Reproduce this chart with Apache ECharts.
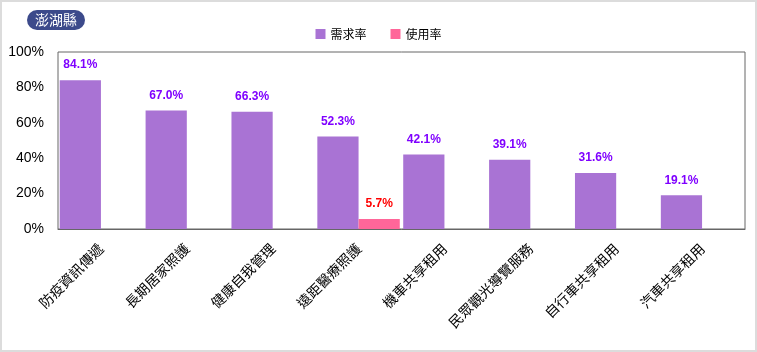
<!DOCTYPE html>
<html>
<head>
<meta charset="utf-8">
<script src="https://cdn.jsdelivr.net/npm/echarts@6/dist/echarts.min.js"></script>
<style>
  html, body { margin: 0; padding: 0; background: #fff; }
  #chart { width: 757px; height: 352px; box-sizing: border-box; border: 2px solid #dcdcdc; }
</style>
</head>
<body>
<div id="chart"></div>
<script>
// 類別
const categories = ['防疫資訊傳遞', '長期居家照護', '健康自我管理', '遠距醫療照護', '機車共享租用', '民眾觀光導覽服務', '自行車共享租用', '汽車共享租用'];
// 需求率 / 使用率 (%)
const demandRate = [84.1, 67.0, 66.3, 52.3, 42.1, 39.1, 31.6, 19.1];
const usageRate = [null, null, null, 5.7, null, null, null, null];
const yTicks = [0, 20, 40, 60, 80, 100];

const myechart = echarts.init(document.getElementById('chart'));
const cjk = '"Noto Sans CJK TC", "Noto Sans", sans-serif';
const option = {
  animation: false,
  title: {
    text: '澎湖縣',
    left: 25,
    top: 8,
    padding: [3, 8],
    backgroundColor: '#3c4a8b',
    borderRadius: 11,
    textStyle: { color: '#fff', fontSize: 14, fontWeight: 'normal', fontFamily: cjk }
  },
  legend: {
    top: 21,
    left: 'center',
    itemWidth: 10,
    itemHeight: 10,
    itemGap: 24,
    icon: 'rect',
    textStyle: { fontSize: 12, color: '#000', fontFamily: cjk }
  },
  grid: {
    show: true,
    borderColor: '#666',
    borderWidth: 1,
    left: 56,
    right: 10,
    top: 50,
    bottom: 121
  },
  xAxis: {
    type: 'category',
    data: categories,
    axisTick: { show: false },
    axisLine: { lineStyle: { color: '#666' } },
    axisLabel: {
      interval: 0,
      rotate: 45,
      margin: 17,
      color: '#000',
      fontSize: 14,
      fontFamily: cjk
    }
  },
  yAxis: {
    type: 'value',
    min: 0,
    max: yTicks[yTicks.length - 1],
    interval: 20,
    axisLine: { show: false },
    axisTick: { show: false },
    splitLine: { show: false },
    axisLabel: {
      formatter: '{value}%',
      margin: 14,
      color: '#000',
      fontSize: 14,
      fontFamily: '"Liberation Sans", Arial, sans-serif'
    }
  },
  series: [
    {
      name: '需求率',
      type: 'bar',
      data: demandRate,
      barGap: '0%',
      barCategoryGap: '4%',
      itemStyle: { color: '#a973d4' },
      label: {
        show: true,
        position: 'top',
        distance: 9,
        formatter: p => p.value.toFixed(1) + '%',
        color: '#7f00ff',
        fontWeight: 'bold',
        fontSize: 12,
        fontFamily: '"Liberation Sans", Arial, sans-serif'
      }
    },
    {
      name: '使用率',
      type: 'bar',
      data: usageRate,
      itemStyle: { color: '#ff6699' },
      label: {
        show: true,
        position: 'top',
        distance: 9,
        formatter: p => p.value.toFixed(1) + '%',
        color: '#ff0000',
        fontWeight: 'bold',
        fontSize: 12,
        fontFamily: '"Liberation Sans", Arial, sans-serif'
      }
    }
  ]
};
myechart.setOption(option);
</script>
</body>
</html>
